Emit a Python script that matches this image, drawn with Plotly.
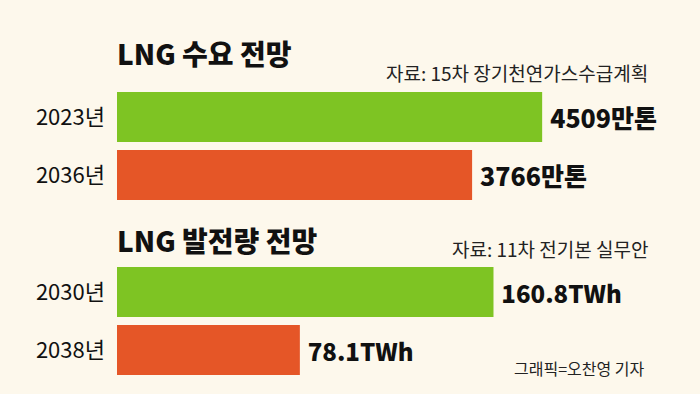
import plotly.graph_objects as go

# Data
demand_years = ["2023년", "2036년"]
demand_values = [4509, 3766]
demand_unit = "만톤"
gen_years = ["2030년", "2038년"]
gen_values = [160.8, 78.1]
gen_unit = "TWh"
bar_colors = ["#7EC423", "#E55627"]

title1 = "LNG 수요 전망"
source1 = "자료: 15차 장기천연가스수급계획"
title2 = "LNG 발전량 전망"
source2 = "자료: 11차 전기본 실무안"
credit = "그래픽=오찬영 기자"

W, H = 700, 394
BG = "#FDF8EC"
CJK = "Noto Sans CJK KR, sans-serif"

def py(px):
    return 1 - px / H

fig = go.Figure()

fig.add_trace(go.Bar(
    x=demand_values, y=demand_years, orientation="h",
    marker=dict(color=bar_colors, line=dict(width=0)),
    width=0.86,
    text=[f"\u2009{v}{demand_unit}" for v in demand_values],
    textposition="outside", constraintext="none", cliponaxis=False,
    textfont=dict(family=CJK, size=25, color="#111111", weight=900),
    xaxis="x", yaxis="y", showlegend=False, hoverinfo="skip",
))
fig.add_trace(go.Bar(
    x=gen_values, y=gen_years, orientation="h",
    marker=dict(color=bar_colors, line=dict(width=0)),
    width=0.86,
    text=[f"\u2009{v}{gen_unit}" for v in gen_values],
    textposition="outside", constraintext="none", cliponaxis=False,
    textfont=dict(family=CJK, size=24, color="#111111", weight=900),
    xaxis="x2", yaxis="y2", showlegend=False, hoverinfo="skip",
))

xdom = [117 / W, 1]
common_x = dict(domain=xdom, showgrid=False, zeroline=False, showticklabels=False,
                showline=False, fixedrange=True)
common_y = dict(showgrid=False, zeroline=False, showline=False, autorange="reversed",
                ticks="", ticklabelstandoff=11, fixedrange=True,
                tickfont=dict(family=CJK, size=22, color="#111111"))

fig.update_layout(
    width=W, height=H,
    margin=dict(l=0, r=0, t=0, b=0),
    paper_bgcolor=BG, plot_bgcolor=BG,
    bargap=0.14,
    xaxis=dict(**common_x, range=[0, 6183], anchor="y"),
    yaxis=dict(**common_y, domain=[py(204), py(88)], anchor="x"),
    xaxis2=dict(**common_x, range=[0, 249], anchor="y2"),
    yaxis2=dict(**common_y, domain=[py(379), py(263)], anchor="x2"),
)

anns = [
    dict(text=title1, x=115 / W, y=py(53), xanchor="left", yanchor="middle",
         font=dict(family=CJK, size=28, color="#111111", weight=900)),
    dict(text=source1, x=650 / W, y=py(72), xanchor="right", yanchor="middle",
         font=dict(family=CJK, size=19, color="#222222")),
    dict(text=title2, x=115 / W, y=py(240), xanchor="left", yanchor="middle",
         font=dict(family=CJK, size=28, color="#111111", weight=900)),
    dict(text=source2, x=650 / W, y=py(248), xanchor="right", yanchor="middle",
         font=dict(family=CJK, size=19, color="#222222")),
    dict(text=credit, x=647 / W, y=py(368), xanchor="right", yanchor="middle",
         font=dict(family=CJK, size=16, color="#222222")),
]
for a in anns:
    a.update(xref="paper", yref="paper", showarrow=False)
fig.update_layout(annotations=anns)

fig.write_html("out.html", config={"displayModeBar": False},
               post_script="document.body.style.margin='0';")
